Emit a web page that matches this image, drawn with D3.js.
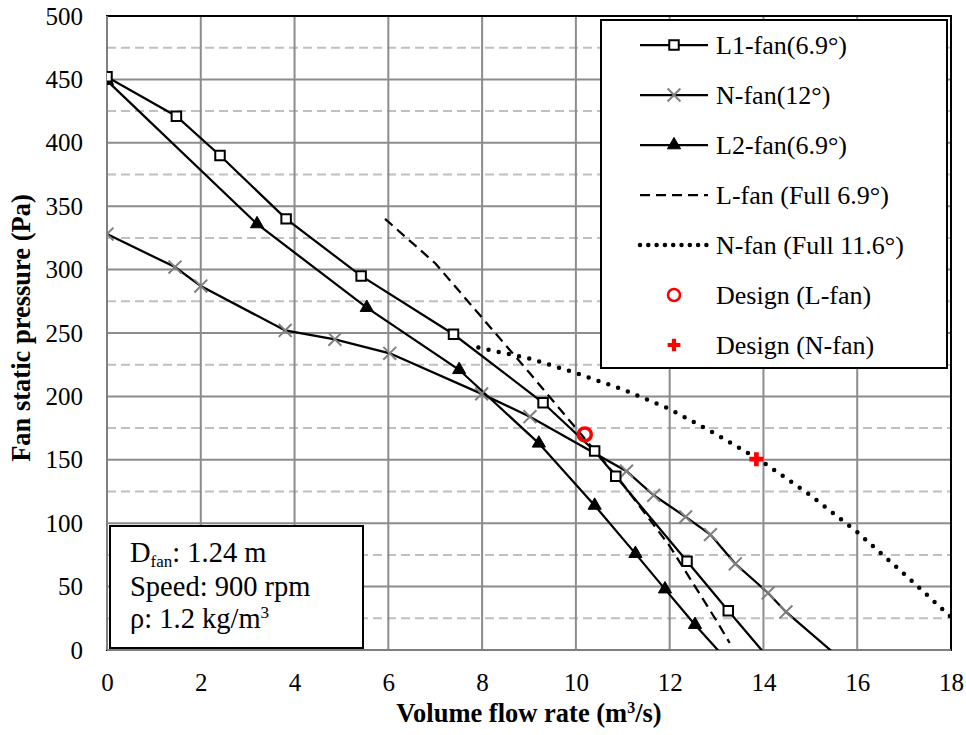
<!DOCTYPE html>
<html>
<head>
<meta charset="utf-8">
<script src="https://cdn.jsdelivr.net/npm/d3@7"></script>
<style>
  body { margin: 0; background: #fff; }
  svg { display: block; }
  text { font-family: "Times New Roman", "Liberation Serif", serif; fill: #000; }
</style>
</head>
<body>
<svg width="966" height="735"></svg>
<script>
// ---- data ----
const l1X = [0, 1.48, 2.41, 3.82, 5.42, 7.39, 9.30, 10.40, 10.85, 12.37, 13.25, 14.19];
const l1Y = [452, 421, 390, 340, 295, 249, 195, 157, 137, 70, 31, -10];

const nX = [0, 1.45, 2.0, 3.8, 4.86, 6.03, 7.99, 9.02, 11.08, 11.66, 12.34, 12.87, 13.4, 14.1, 14.48, 15.74];
const nY = [328, 302, 287, 252, 245, 234, 202, 184, 141, 122, 105, 91, 68, 45, 30, -10];

const l2X = [0, 3.2, 5.54, 7.51, 9.21, 10.40, 11.27, 11.90, 12.54, 13.27];
const l2Y = [449, 336, 270, 221, 163, 114, 76, 48, 20, -10];

const lFullX = [5.93, 7, 8, 9, 10, 11, 12, 13, 13.28];
const lFullY = [340, 305, 262, 219, 175, 131, 82, 23, 5.5];

const nFullX = [7.92, 9, 10, 11, 12, 13, 14, 15, 16, 17, 18];
const nFullY = [238.5, 230, 218.5, 205.5, 190, 170, 148, 122, 93, 60, 26];

const designL = [10.19, 170];
const designN = [13.85, 150.5];

const yMinorTicks = [25, 75, 125, 175, 225, 275, 325, 375, 425, 475];

const legendLabels = ["L1-fan(6.9°)", "N-fan(12°)", "L2-fan(6.9°)", "L-fan (Full 6.9°)",
                      "N-fan (Full 11.6°)", "Design (L-fan)", "Design (N-fan)"];

const serif = '"Times New Roman", "Liberation Serif", serif';
const svg = d3.select("svg");
const pL = 107, pR = 951, pT = 16, pB = 650;

const x = d3.scaleLinear().domain([0, 18]).range([pL, pR]);
const y = d3.scaleLinear().domain([0, 500]).range([pB, pT]);

const zip = (xs, ys) => xs.map((v, i) => [v, ys[i]]);

// grid
const grid = svg.append("g");
grid.selectAll(".minor").data(yMinorTicks)
  .enter().append("line")
  .attr("x1", pL).attr("x2", pR)
  .attr("y1", d => y(d)).attr("y2", d => y(d))
  .attr("stroke", "#c0c0c0").attr("stroke-width", 2).attr("stroke-dasharray", "9,5");
grid.selectAll(".majy").data(y.ticks(10))
  .enter().append("line")
  .attr("x1", pL).attr("x2", pR)
  .attr("y1", d => y(d)).attr("y2", d => y(d))
  .attr("stroke", "#8c8c8c").attr("stroke-width", 2);
grid.selectAll(".majx").data(x.ticks(9))
  .enter().append("line")
  .attr("x1", d => x(d)).attr("x2", d => x(d))
  .attr("y1", pT).attr("y2", pB)
  .attr("stroke", "#8c8c8c").attr("stroke-width", 2);

// frame
svg.append("rect")
  .attr("x", pL).attr("y", pT).attr("width", pR - pL).attr("height", pB - pT)
  .attr("fill", "none").attr("stroke", "#000").attr("stroke-width", 2);
svg.append("line").attr("x1", pL).attr("x2", pL).attr("y1", pT).attr("y2", pB)
  .attr("stroke", "#7f7f7f").attr("stroke-width", 2);
svg.append("line").attr("x1", pL).attr("x2", pR).attr("y1", pB).attr("y2", pB)
  .attr("stroke", "#7f7f7f").attr("stroke-width", 2);

// axes (labels only)
const xAxis = svg.append("g").attr("transform", `translate(0,${pB})`)
  .call(d3.axisBottom(x).ticks(9).tickSize(0).tickPadding(23));
const yAxis = svg.append("g").attr("transform", `translate(${pL},0)`)
  .call(d3.axisLeft(y).ticks(10).tickSize(0).tickPadding(24));
[xAxis, yAxis].forEach(a => {
  a.attr("font-family", serif).attr("font-size", 25);
  a.select(".domain").remove();
  a.selectAll("text").attr("fill", "#000").style("font-family", serif);
});

svg.append("text")
  .attr("x", (pL + pR) / 2).attr("y", 722)
  .attr("text-anchor", "middle")
  .attr("font-size", 26.5).attr("font-weight", "bold")
  .html('Volume flow rate (m<tspan dy="-9" font-size="16">3</tspan><tspan dy="9">/s)</tspan>');

svg.append("text")
  .attr("transform", "translate(30,328) rotate(-90)")
  .attr("text-anchor", "middle")
  .attr("font-size", 26.5).attr("font-weight", "bold")
  .text("Fan static pressure (Pa)");

// series
svg.append("clipPath").attr("id", "plotclip").append("rect")
  .attr("x", pL).attr("y", pT).attr("width", pR - pL).attr("height", pB - pT);
const plot = svg.append("g").attr("clip-path", "url(#plotclip)");
const line = d3.line().x(d => x(d[0])).y(d => y(d[1]));

function drawLine(pts, dash, width) {
  plot.append("path").datum(pts)
    .attr("d", line).attr("fill", "none").attr("stroke", "#000")
    .attr("stroke-width", width)
    .attr("stroke-dasharray", dash)
    .attr("stroke-linecap", dash && dash.startsWith("0") ? "round" : "butt");
}

const sq = d3.symbol().type(d3.symbolSquare).size(90);
const tri = d3.symbol().type(d3.symbolTriangle).size(75);
const cross = d3.symbol().type(d3.symbolX).size(110);
const plus = d3.symbol().type(d3.symbolCross).size(90);

function markers(g, pts, sym, fill, stroke, sw) {
  g.selectAll(null).data(pts).enter().append("path")
    .attr("d", sym)
    .attr("transform", d => `translate(${x(d[0])},${y(d[1])})`)
    .attr("fill", fill).attr("stroke", stroke).attr("stroke-width", sw);
}

drawLine(zip(lFullX, lFullY), "10,6", 2.25);
drawLine(zip(nFullX, nFullY), "0,10.4", 4.5);
drawLine(zip(nX, nY), null, 2.25);
drawLine(zip(l2X, l2Y), null, 2.25);
drawLine(zip(l1X, l1Y), null, 2.25);

markers(plot, zip(nX, nY), cross, "none", "#808080", 2);
markers(plot, zip(l2X, l2Y), tri, "#000", "#000", 1);
markers(plot, zip(l1X, l1Y), sq, "#fff", "#000", 2);

plot.append("circle").attr("cx", x(designL[0])).attr("cy", y(designL[1]))
  .attr("r", 6.5).attr("fill", "none").attr("stroke", "#ff0000").attr("stroke-width", 3.5);
plot.append("path").attr("d", d3.symbol().type(d3.symbolCross).size(110))
  .attr("transform", `translate(${x(designN[0])},${y(designN[1])})`)
  .attr("fill", "#ff0000");

// legend
const lg = svg.append("g");
lg.append("rect").attr("x", 601).attr("y", 20).attr("width", 346).attr("height", 348)
  .attr("fill", "#fff").attr("stroke", "#000").attr("stroke-width", 2);
legendLabels.forEach((lab, i) => {
  const cy = 45 + i * 50;
  const row = lg.append("g");
  if (i < 5) {
    const dash = i === 3 ? "10,6" : i === 4 ? "0,8.3" : null;
    row.append("line").attr("x1", 640).attr("x2", 708).attr("y1", cy).attr("y2", cy)
      .attr("stroke", "#000").attr("stroke-width", i === 4 ? 4.5 : 2.25)
      .attr("stroke-dasharray", dash)
      .attr("stroke-linecap", i === 4 ? "round" : "butt");
  }
  const sym = [sq, cross, tri][i];
  if (sym) {
    row.append("path").attr("d", sym).attr("transform", `translate(674,${cy})`)
      .attr("fill", ["#fff", "none", "#000"][i])
      .attr("stroke", ["#000", "#808080", "#000"][i])
      .attr("stroke-width", [2, 2, 1][i]);
  }
  if (i === 5) {
    row.append("circle").attr("cx", 674).attr("cy", cy).attr("r", 6)
      .attr("fill", "none").attr("stroke", "#ff0000").attr("stroke-width", 2.5);
  }
  if (i === 6) {
    row.append("path").attr("d", plus).attr("transform", `translate(674,${cy})`)
      .attr("fill", "#ff0000");
  }
  row.append("text").attr("x", 716).attr("y", cy + 9)
    .attr("font-size", 26).text(lab);
});

// info box
const info = svg.append("g").attr("font-size", 28.5);
info.append("rect").attr("x", 110).attr("y", 526).attr("width", 253).attr("height", 122)
  .attr("fill", "#fff").attr("stroke", "#000").attr("stroke-width", 2);
info.append("text").attr("x", 130).attr("y", 562)
  .html('D<tspan dy="5" font-size="17">fan</tspan><tspan dy="-5">: 1.24 m</tspan>');
info.append("text").attr("x", 130).attr("y", 596)
  .text("Speed: 900 rpm");
info.append("text").attr("x", 130).attr("y", 628)
  .html('ρ: 1.2 kg/m<tspan dy="-10" font-size="17">3</tspan>');
</script>
</body>
</html>
